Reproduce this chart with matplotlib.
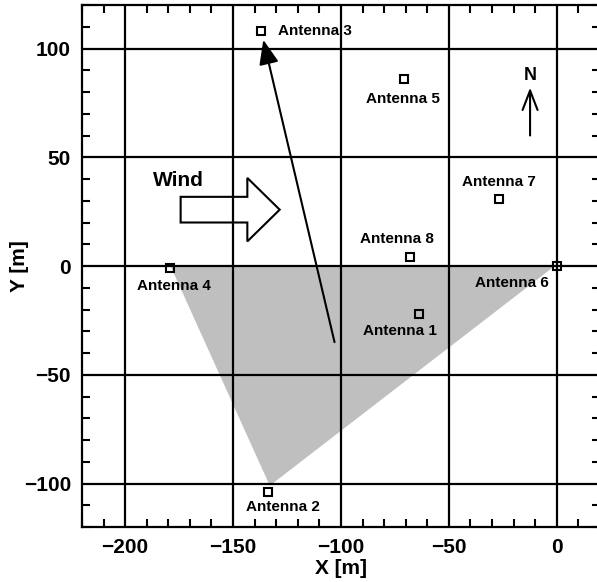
import matplotlib
matplotlib.use("Agg")
import matplotlib.pyplot as plt
from matplotlib.patches import FancyArrow
from matplotlib.ticker import MultipleLocator

plt.rcParams['font.family'] = ['Liberation Sans', 'DejaVu Sans']
plt.rcParams['font.weight'] = 'bold'

# Antenna positions [m]
antenna_names = ['Antenna 1', 'Antenna 2', 'Antenna 3', 'Antenna 4',
                 'Antenna 5', 'Antenna 6', 'Antenna 7', 'Antenna 8']
antenna_x = [-64, -134, -137, -179, -71, 0, -27, -68]
antenna_y = [-22, -104, 108, -1, 86, 0, 31, 4]
# label offsets (pixels) and alignment
label_dx = [-19, 15, 17, 3, -1, -45, 0, -13]
label_dy = [-17, -15, 0, -18, -20, -17, 17, 18]
label_ha = ['center', 'center', 'left', 'center', 'center', 'center', 'center', 'center']

# shaded area (triangle)
shade_x = [-179, -1, -133]
shade_y = [0, 0, -101]

# long arrow
arrow_tail = (-103, -35)
arrow_head = (-136, 104)

# wind block arrow
wind_x0, wind_y0, wind_len = -174.3, 25.9, 45.9
wind_shaft, wind_head_w, wind_head_l = 11.8, 29.2, 15.0

xticks = [-200, -150, -100, -50, 0]
yticks = [-100, -50, 0, 50, 100]

fig = plt.figure(figsize=(5.97, 5.82), dpi=100)
ax = fig.add_axes([82/597, 1 - 527/582, 518/597, 522/582])
ax.set_xlim(-220, 20)
ax.set_ylim(-120, 120)

ax.fill(shade_x, shade_y, color='#bfbfbf', lw=0, zorder=1)

ax.set_xticks(xticks)
ax.set_yticks(yticks)
ax.xaxis.set_minor_locator(MultipleLocator(10))
ax.yaxis.set_minor_locator(MultipleLocator(10))
ax.grid(True, which='major', color='black', lw=1.6)
ax.set_axisbelow(False)
ax.tick_params(which='both', direction='in', top=True, right=True, width=1.5)
ax.tick_params(which='major', length=0, labelsize=15, pad=8)
ax.tick_params(which='minor', length=6)
for s in ax.spines.values():
    s.set_linewidth(1.6)
ax.set_xticklabels([f'{t:d}'.replace('-', '\u2212') for t in xticks], fontweight='bold')
ax.set_yticklabels([f'{t:d}'.replace('-', '\u2212') for t in yticks], fontweight='bold')

ax.set_xlabel('X [m]', fontsize=15, fontweight='bold', labelpad=1)
ax.set_ylabel('Y [m]', fontsize=15, fontweight='bold', labelpad=-4)

ax.plot(antenna_x, antenna_y, ls='none', marker='s', ms=5.5, mfc='none',
        mec='black', mew=1.5, zorder=3)
for name, x, y, dx, dy, ha in zip(antenna_names, antenna_x, antenna_y,
                                   label_dx, label_dy, label_ha):
    ax.annotate(name, (x, y), xytext=(dx, dy), textcoords='offset pixels',
                ha=ha, va='center', fontsize=11, fontweight='bold', zorder=5)

ax.annotate('', xy=arrow_head, xytext=arrow_tail,
            arrowprops=dict(arrowstyle='-|>,head_length=0.75,head_width=0.3',
                            mutation_scale=20, lw=1.5, color='black',
                            shrinkA=0, shrinkB=0), zorder=4)

wind = FancyArrow(wind_x0, wind_y0, wind_len, 0, width=wind_shaft,
                  head_width=wind_head_w, head_length=wind_head_l,
                  length_includes_head=True, fc='white', ec='black', lw=1.5,
                  zorder=2)
ax.add_patch(wind)
ax.text(-175.4, 39.2, 'Wind', ha='center', va='center', fontsize=15,
        fontweight='bold')

# North arrow
ax.annotate('', xy=(-12.4, 82), xytext=(-12.4, 60),
            arrowprops=dict(arrowstyle='->,head_length=0.7,head_width=0.27',
                            mutation_scale=20, lw=1.5, color='black',
                            shrinkA=0, shrinkB=0), zorder=4)
ax.text(-12.4, 87.5, 'N', ha='center', va='center', fontsize=13, fontweight='bold')

fig.savefig('out.png', dpi=100)
